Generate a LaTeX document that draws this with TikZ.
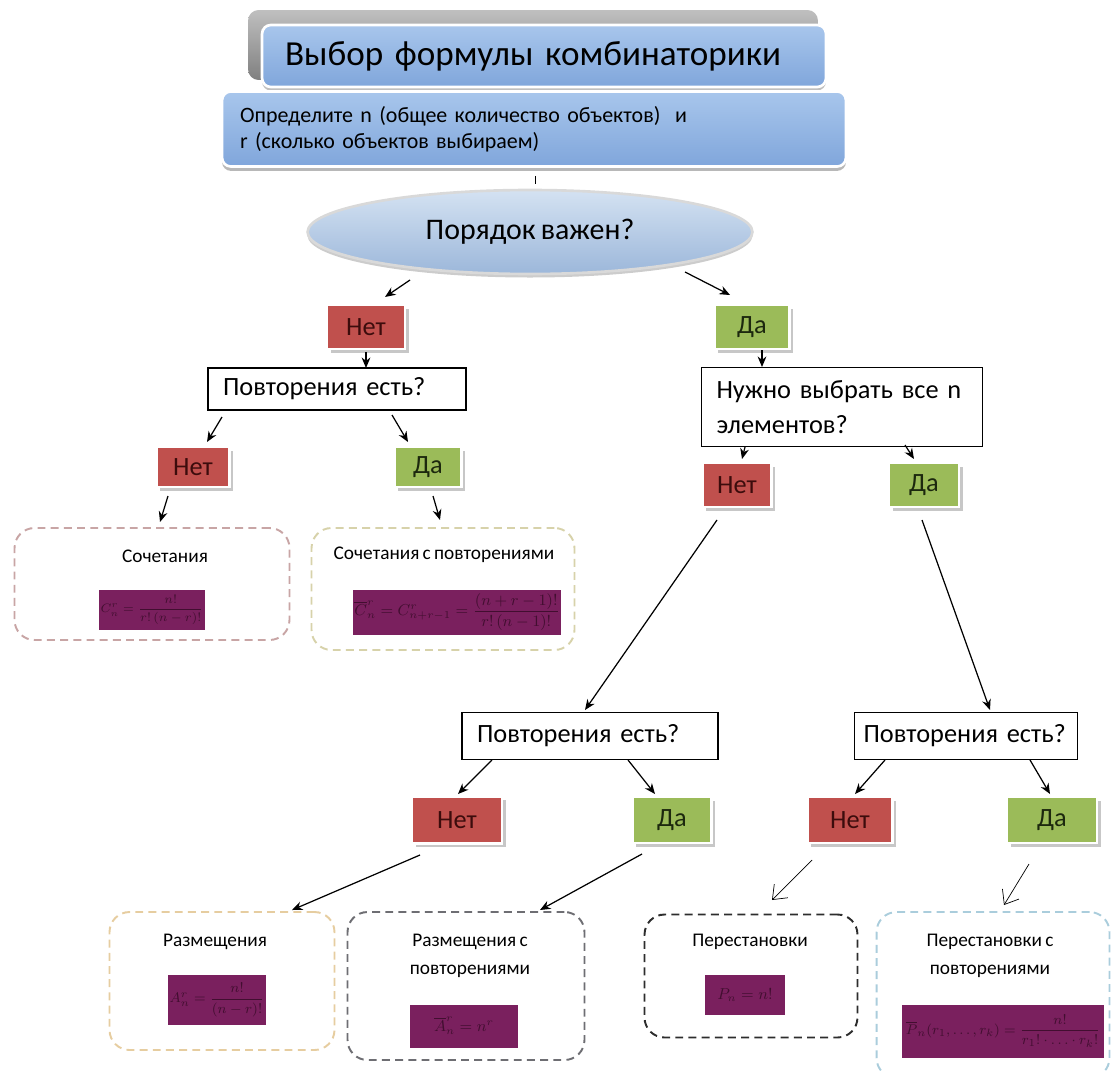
\documentclass[tikz,border=0pt]{standalone}
\usepackage{fontspec}
\setmainfont{Carlito}[WordSpace=0.75]
\usepackage{amsmath}
\usepackage{tikz}
\usetikzlibrary{shapes}
\usetikzlibrary{shadows}
\usetikzlibrary{arrows.meta}
\usepackage{xcolor}
\definecolor{netred}{RGB}{192,80,77}
\definecolor{nettext}{RGB}{60,12,12}
\definecolor{dagreen}{RGB}{155,187,89}
\definecolor{datext}{RGB}{28,40,14}
\definecolor{fmlfill}{RGB}{122,32,94}
\definecolor{fmltext}{RGB}{66,14,48}
\definecolor{infotop}{RGB}{168,198,236}
\definecolor{infobot}{RGB}{128,166,219}
\definecolor{ovaltop}{RGB}{212,226,242}
\definecolor{ovalbot}{RGB}{156,183,218}
\tikzset{netbox/.style={draw=white, line width=1.5pt, fill=netred, text=nettext, minimum height=0.88cm, font=\fontsize{15}{18}\selectfont, drop shadow={shadow xshift=2pt, shadow yshift=-2pt, fill=black!22, opacity=1}}}
\tikzset{dabox/.style={netbox, fill=dagreen, text=datext}}
\tikzset{qbox/.style={draw, line width=0.7pt, fill=white, align=left, inner xsep=0.3cm, font=\fontsize{15}{20}\selectfont}}
\tikzset{resbox/.style={dashed, dash pattern=on 4.5pt off 3pt, line width=1.1pt, rounded corners=0.4cm}}
\tikzset{restitle/.style={align=center, font=\fontsize{11}{16}\selectfont}}
\tikzset{fml/.style={fill=fmlfill, text=fmltext, inner sep=1pt, font=\fontsize{9}{10}\selectfont}}
\tikzset{arr/.style={-{Stealth[length=6pt,width=5pt]}, line width=0.7pt}}
\tikzset{oarr/.style={-{Straight Barb[length=7pt,width=11pt]}, line width=0.4pt}}

\begin{document}
\begin{tikzpicture}[x=0.02cm, y=-0.02cm]

\useasboundingbox (0,0) rectangle (1111,1071);

% header
\node[rounded corners=6pt, top color=black!25, bottom color=black!50, minimum width=11.4cm, minimum height=1.4cm] (back) at (533,45) {};
\node[rounded corners=5pt, top color=infotop, bottom color=infobot, draw=white, line width=1.5pt, minimum width=11.28cm, minimum height=1.24cm, text width=10.36cm, inner xsep=0.46cm, align=left, font=\fontsize{20}{24}\selectfont, drop shadow={shadow xshift=0pt, shadow yshift=-2pt, fill=black!25, opacity=1}] (title) at (544,56) {Выбор формулы комбинаторики};
\node[rounded corners=5pt, top color=infotop, bottom color=infobot, draw=white, line width=1.5pt, minimum width=12.48cm, minimum height=1.5cm, text width=11.76cm, inner xsep=0.36cm, align=left, font=\fontsize{12.5}{15}\selectfont, drop shadow={shadow xshift=0pt, shadow yshift=-2.5pt, fill=black!28, opacity=1}] (info) at (534,129) {Определите n (общее количество объектов)\ \ и\\r (сколько объектов выбираем)};

\node[ellipse, top color=ovaltop, bottom color=ovalbot, draw=gray!30, line width=1.5pt, minimum width=8.9cm, minimum height=1.68cm, inner sep=0pt, font=\fontsize{17}{20}\selectfont, drop shadow={shadow xshift=0pt, shadow yshift=-2pt, fill=black!20, opacity=1}] (order) at (530,232) {Порядок важен?};

% first level
\node[netbox, minimum width=1.56cm] (no1) at (366,327) {Нет};
\node[dabox, minimum width=1.5cm] (yes1) at (752,327) {Да};

\node[qbox, minimum height=0.84cm, text width=4.56cm] (q1) at (337,389) {Повторения есть?};
\node[qbox, minimum height=1.58cm, text width=5.02cm] (q2) at (842,407) {Нужно выбрать все n\\элементов?};

\node[netbox, minimum width=1.46cm, minimum height=0.8cm] (no2) at (193,467) {Нет};
\node[dabox, minimum width=1.34cm, minimum height=0.8cm] (yes2) at (428,467) {Да};
\node[netbox, minimum width=1.38cm] (no3) at (737,485) {Нет};
\node[dabox, minimum width=1.4cm] (yes3) at (924,485) {Да};

% combinations
\node[resbox, draw={rgb,255:red,200;green,165;blue,165}, minimum width=5.5cm, minimum height=2.24cm] (comb) at (152,584) {};
\node[restitle] (combT) at (165,556) {Сочетания};
\node[fml, minimum width=1.94cm, minimum height=0.8cm, font=\fontsize{7.5}{8}\selectfont] (combF) at (152,610) {$C_n^r=\dfrac{n!}{r!\,(n-r)!}$};

\node[resbox, draw={rgb,255:red,215;green,210;blue,170}, minimum width=5.26cm, minimum height=2.44cm] (combrep) at (443,589) {};
\node[restitle] (combrepT) at (444,555) {Сочетания с повторениями};
\node[fml, minimum width=3.8cm, minimum height=0.9cm] (combrepF) at (457,612) {$\overline{C}_n^r=C_{n+r-1}^r=\dfrac{(n+r-1)!}{r!\,(n-1)!}$};

% second level
\node[qbox, minimum height=0.94cm, text width=4.52cm] (q3) at (590,736) {Повторения есть?};
\node[qbox, minimum height=0.94cm, text width=4.1cm, inner xsep=0.18cm] (q4) at (966,736) {Повторения есть?};

\node[netbox, minimum width=1.8cm, minimum height=0.94cm] (no4) at (457,820) {Нет};
\node[dabox, minimum width=1.58cm, minimum height=0.92cm] (yes4) at (672,820) {Да};
\node[netbox, minimum width=1.7cm, minimum height=0.92cm] (no5) at (850,820) {Нет};
\node[dabox, minimum width=1.8cm, minimum height=0.92cm] (yes5) at (1052,820) {Да};

% arrangements and permutations
\node[resbox, draw={rgb,255:red,230;green,205;blue,160}, minimum width=4.5cm, minimum height=2.76cm] (arr) at (222,981) {};
\node[restitle] (arrT) at (215,942) {Размещения};
\node[fml, minimum width=1.9cm, minimum height=1cm, font=\fontsize{8.5}{9}\selectfont] (arrF) at (217,1000) {$A_n^r=\dfrac{n!}{(n-r)!}$};

\node[resbox, draw={rgb,255:red,110;green,110;blue,115}, minimum width=4.74cm, minimum height=2.96cm] (arrrep) at (466,986) {};
\node[restitle] (arrrepT) at (470,956) {Размещения с\\повторениями};
\node[fml, minimum width=2.16cm, minimum height=0.86cm] (arrrepF) at (464,1026) {$\overline{A}_n^r=n^r$};

\node[resbox, draw={rgb,255:red,45;green,45;blue,45}, minimum width=4.26cm, minimum height=2.46cm] (perm) at (751,976) {};
\node[restitle] (permT) at (750,942) {Перестановки};
\node[fml, minimum width=1.6cm, minimum height=0.8cm] (permF) at (745,995) {$P_n=n!$};

\node[resbox, draw={rgb,255:red,170;green,205;blue,220}, minimum width=4.66cm, minimum height=3.32cm] (permrep) at (993,995) {};
\node[restitle] (permrepT) at (990,956) {Перестановки с\\повторениями};
\node[fml, minimum width=4.06cm, minimum height=1.06cm, font=\fontsize{8.5}{9}\selectfont] (permrepF) at (1003,1031) {$\overline{P}_n(r_1,\ldots,r_k)=\dfrac{n!}{r_1!\cdot\ldots\cdot r_k!}$};

% connectors
\draw ([shift={(1,47)}]info.center) to ([shift={(5,-48)}]order.center);
\draw[arr] ([shift={(-120,48)}]order.center) to ([shift={(19,-30)}]no1.center);
\draw[arr] ([shift={(155,40)}]order.center) to ([shift={(-22,-32)}]yes1.center);
\draw[arr] ([shift={(0,25)}]no1.center) to ([shift={(29,-21)}]q1.center);
\draw[arr] ([shift={(10,23)}]yes1.center) to ([shift={(-80,-40)}]q2.center);
\draw[arr] ([shift={(-115,28)}]q1.center) to ([shift={(14,-25)}]no2.center);
\draw[arr] ([shift={(55,26)}]q1.center) to ([shift={(-20,-25)}]yes2.center);
\draw[arr] ([shift={(-97,40)}]q2.center) to ([shift={(5,-26)}]no3.center);
\draw[arr] ([shift={(63,38)}]q2.center) to ([shift={(-10,-26)}]yes3.center);
\draw[arr] ([shift={(-25,29)}]no2.center) to ([shift={(8,-62)}]comb.center);
\draw[arr] ([shift={(5,29)}]yes2.center) to ([shift={(-3,-69)}]combrep.center);
\draw[arr] ([shift={(-20,35)}]no3.center) to ([shift={(-5,-26)}]q3.center);
\draw[arr] ([shift={(-2,35)}]yes3.center) to ([shift={(24,-26)}]q4.center);
\draw[arr] ([shift={(-98,24)}]q3.center) to ([shift={(1,-26)}]no4.center);
\draw[arr] ([shift={(38,24)}]q3.center) to ([shift={(-17,-26)}]yes4.center);
\draw[arr] ([shift={(-81,24)}]q4.center) to ([shift={(5,-26)}]no5.center);
\draw[arr] ([shift={(64,24)}]q4.center) to ([shift={(-2,-26)}]yes5.center);
\draw[arr] ([shift={(-37,35)}]no4.center) to ([shift={(70,-71)}]arr.center);
\draw[arr] ([shift={(-30,34)}]yes4.center) to ([shift={(74,-76)}]arrrep.center);
\draw[oarr] ([shift={(-38,40)}]no5.center) to ([shift={(21,-76)}]perm.center);
\draw[oarr] ([shift={(-23,44)}]yes5.center) to ([shift={(11,-90)}]permrep.center);

\end{tikzpicture}
\end{document}
